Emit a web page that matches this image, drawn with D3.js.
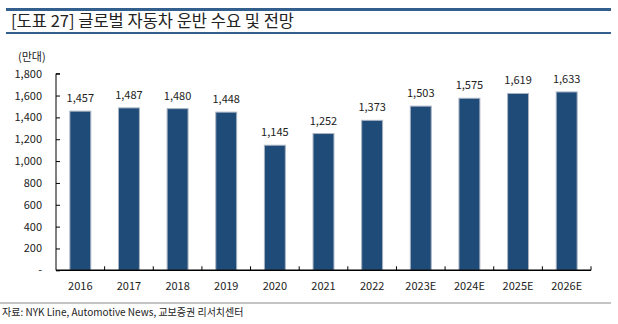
<!DOCTYPE html>
<html><head><meta charset="utf-8">
<script src="https://cdn.jsdelivr.net/npm/d3@7"></script>
<style>
html,body{margin:0;padding:0;background:#fff;}
svg{display:block;}
text{font-family:"Noto Sans CJK KR","Liberation Sans",sans-serif;}
</style></head>
<body>
<svg id="c" width="618" height="324"></svg>
<script>
const categories = ["2016","2017","2018","2019","2020","2021","2022","2023E","2024E","2025E","2026E"];
const values = [1457,1487,1480,1448,1145,1252,1373,1503,1575,1619,1633];
const yTicks = [0,200,400,600,800,1000,1200,1400,1600,1800];
const titleText = "[도표 27] 글로벌 자동차 운반 수요 및 전망";
const unitText = "(만대)";
const sourceText = "자료: NYK Line, Automotive News, 교보증권 리서치센터";

const svg = d3.select("#c");
const fmt = d3.format(",");

// header rules
svg.append("rect").attr("x",6).attr("y",8).attr("width",605).attr("height",3).attr("fill","#335f8e");
svg.append("rect").attr("x",6).attr("y",32).attr("width",605).attr("height",2).attr("fill","#335f8e");
svg.append("text").attr("x",11).attr("y",27).attr("font-size",16.5).attr("fill","#222").text(titleText);

const x = d3.scaleBand().domain(categories).range([56,591]).paddingInner(0.57).paddingOuter(0.285);
const y = d3.scaleLinear().domain([0,1800]).range([270.3,73.7]);

// bars
svg.append("g").selectAll("rect").data(values).join("rect")
  .attr("x",(d,i)=>x(categories[i]))
  .attr("y",d=>y(d))
  .attr("width",x.bandwidth())
  .attr("height",d=>y(0)-y(d))
  .attr("fill","#1f4b78")
  .attr("stroke","#a9b3c2").attr("stroke-width",1);

// value labels
svg.append("g").selectAll("text").data(values).join("text")
  .attr("x",(d,i)=>x(categories[i])+x.bandwidth()/2)
  .attr("y",d=>y(d)-9)
  .attr("text-anchor","middle")
  .attr("font-size",11).attr("fill","#222")
  .attr("font-family","Liberation Sans, Arial, sans-serif")
  .text(d=>fmt(d));

// y axis
const yAxis = d3.axisRight(y).tickValues(yTicks).tickSize(4).tickFormat("");
const gy = svg.append("g").attr("transform","translate(56,0)").call(yAxis);
gy.select(".domain").attr("stroke","#000").attr("d",`M4,${y(1800)}H0V${y(0)}`);
gy.selectAll(".tick line").attr("stroke","#000");
svg.append("g").selectAll("text").data(yTicks).join("text")
  .attr("x",42).attr("y",d=>y(d)+4)
  .attr("text-anchor","end").attr("font-size",11).attr("fill","#222")
  .attr("font-family","Liberation Sans, Arial, sans-serif")
  .text(d=>d===0?"-":fmt(d));

// x axis
const gx = svg.append("g").attr("transform",`translate(0,${y(0)})`);
gx.append("line").attr("x1",56).attr("x2",591).attr("y1",0).attr("y2",0).attr("stroke","#000").attr("stroke-width",1.5);
const bounds = categories.map((c,i)=>x(c)-x.step()*x.paddingInner()/2);
bounds.push(591);
gx.selectAll("line.tk").data(bounds.slice(1)).join("line").attr("class","tk")
  .attr("x1",d=>d).attr("x2",d=>d).attr("y1",0).attr("y2",-4).attr("stroke","#000");
const xAxis = d3.axisBottom(x).tickSize(0).tickPadding(0);
const gxa = svg.append("g").attr("transform",`translate(0,${y(0)+20})`).call(xAxis);
gxa.select(".domain").remove();
gxa.selectAll("text").attr("font-size",11).attr("fill","#222").attr("dy","0")
  .attr("font-family","Liberation Sans, Arial, sans-serif");

// unit
svg.append("text").attr("x",18).attr("y",61).attr("font-size",11).attr("fill","#222").text(unitText);

// bottom rule & source
svg.append("rect").attr("x",0).attr("y",302).attr("width",611).attr("height",2).attr("fill","#c4c4c4");
svg.append("text").attr("x",2).attr("y",316).attr("font-size",10).attr("fill","#222").text(sourceText);
</script>
</body></html>
